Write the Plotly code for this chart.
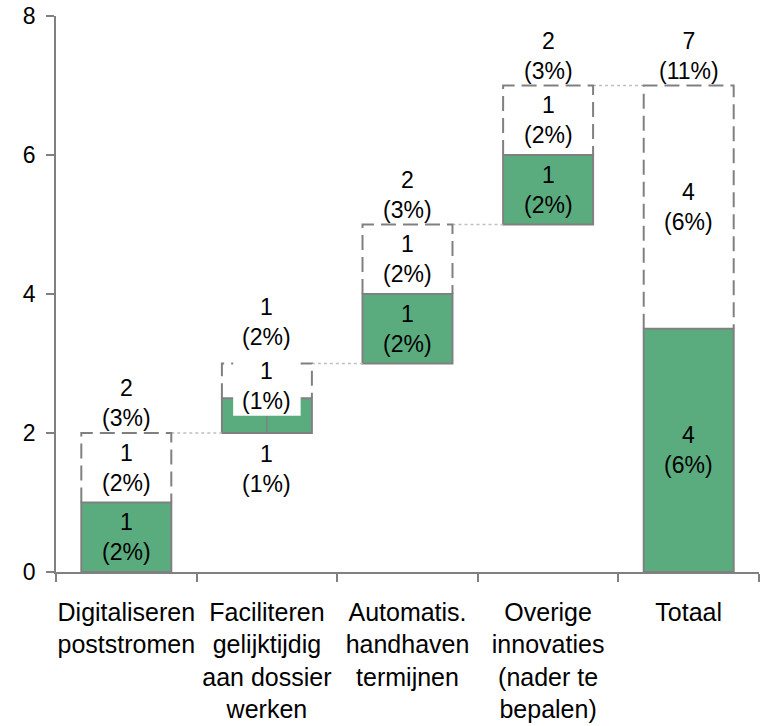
import plotly.graph_objects as go

# ---------------- data ----------------
categories = [
    "Digitaliseren<br>poststromen",
    "Faciliteren<br>gelijktijdig<br>aan dossier<br>werken",
    "Automatis.<br>handhaven<br>termijnen",
    "Overige<br>innovaties<br>(nader te<br>bepalen)",
    "Totaal",
]
solid_values = [1, 0.5, 1, 1, 3.5]      # green (solid) part
dashed_values = [1, 0.5, 1, 1, 3.5]     # dashed part on top
solid_counts = ["1", "1", "1", "1", "4"]
solid_pct = ["(2%)", "(1%)", "(2%)", "(2%)", "(6%)"]
dashed_counts = ["1", "1", "1", "1", "4"]
dashed_pct = ["(2%)", "(1%)", "(2%)", "(2%)", "(6%)"]
total_counts = ["2", "1", "2", "2", "7"]
total_pct = ["(3%)", "(2%)", "(3%)", "(3%)", "(11%)"]
y_ticks = [0, 2, 4, 6, 8]

# ---------------- styles ----------------
GREEN = "#5AAC7F"
GREY = "#808080"
FONT = "Liberation Sans, Arial, sans-serif"
BAR_W = 0.64
LABEL_SIZE = 23

n = len(categories)
bases = []
run = 0
for i in range(n):
    if i == n - 1:
        bases.append(0)
    else:
        bases.append(run)
        run += solid_values[i] + dashed_values[i]
dashed_bases = [b + s for b, s in zip(bases, solid_values)]
tops = [b + d for b, d in zip(dashed_bases, dashed_values)]

fig = go.Figure()
fig.add_trace(go.Bar(
    x=categories, y=solid_values, base=bases, width=BAR_W,
    marker=dict(color=GREEN, line=dict(color=GREY, width=2)),
    showlegend=False, hoverinfo="skip",
))
fig.add_trace(go.Bar(
    x=categories, y=dashed_values, base=dashed_bases, width=BAR_W,
    marker=dict(color="rgba(0,0,0,0)", line=dict(width=0)),
    showlegend=False, hoverinfo="skip",
))

shapes = []
# connector dotted lines
for i in range(n - 1):
    shapes.append(dict(type="line", xref="x", yref="y",
                       x0=i + BAR_W / 2, x1=i + 1 - BAR_W / 2,
                       y0=tops[i], y1=tops[i],
                       line=dict(color="#BFBFBF", width=1.5, dash="dot")))
# dashed outlines
for i in range(n):
    x0, x1 = i - BAR_W / 2, i + BAR_W / 2
    y0, y1 = dashed_bases[i], tops[i]
    shapes.append(dict(type="path", xref="x", yref="y",
                       path=f"M {x0},{y0} L {x0},{y1} L {x1},{y1} L {x1},{y0}",
                       line=dict(color=GREY, width=2, dash="15px,7px")))

annotations = []
txt_font = dict(family=FONT, size=LABEL_SIZE, color="black")
for i, cat in enumerate(categories):
    small = solid_values[i] < 1
    if small:
        annotations.append(dict(x=cat, y=bases[i], xref="x", yref="y",
                                text=f"{solid_counts[i]}<br>{solid_pct[i]}",
                                showarrow=False, yanchor="top", yshift=-6,
                                font=txt_font))
        shapes.append(dict(type="line", xref="x", yref="y", x0=i, x1=i,
                           y0=bases[i], y1=bases[i] + 0.3,
                           line=dict(color=GREY, width=1.5)))
        shapes.append(dict(type="rect", xref="x", yref="y",
                           x0=i - 0.24, x1=i + 0.24,
                           y0=dashed_bases[i] - 0.25, y1=tops[i] + 0.08,
                           fillcolor="white", line=dict(width=0)))
        annotations.append(dict(x=cat, y=dashed_bases[i] + dashed_values[i] / 2 - 0.08,
                                xref="x", yref="y",
                                text=f"{dashed_counts[i]}<br>{dashed_pct[i]}",
                                showarrow=False, font=txt_font))
        annotations.append(dict(x=cat, y=tops[i], xref="x", yref="y",
                                text=f"{total_counts[i]}<br>{total_pct[i]}",
                                showarrow=False, yanchor="bottom", yshift=12,
                                font=txt_font))
    else:
        annotations.append(dict(x=cat, y=bases[i] + solid_values[i] / 2,
                                xref="x", yref="y",
                                text=f"{solid_counts[i]}<br>{solid_pct[i]}",
                                showarrow=False, font=txt_font))
        annotations.append(dict(x=cat, y=dashed_bases[i] + dashed_values[i] / 2,
                                xref="x", yref="y",
                                text=f"{dashed_counts[i]}<br>{dashed_pct[i]}",
                                showarrow=False, font=txt_font))
        annotations.append(dict(x=cat, y=tops[i], xref="x", yref="y",
                                text=f"{total_counts[i]}<br>{total_pct[i]}",
                                showarrow=False, yanchor="bottom", yshift=0,
                                font=txt_font))

fig.update_layout(
    width=762, height=726,
    margin=dict(l=56, r=3, t=16, b=154),
    plot_bgcolor="white", paper_bgcolor="white",
    barmode="overlay",
    shapes=shapes, annotations=annotations,
    font=dict(family=FONT, color="black"),
    xaxis=dict(
        type="category", tickson="boundaries", ticks="outside", ticklen=8,
        tickcolor=GREY, tickwidth=1.5, showline=True, linecolor=GREY, linewidth=1.5,
        showgrid=False, tickfont=dict(family=FONT, size=25, color="black"),
        tickangle=0, automargin=False, ticklabelstandoff=17,
    ),
    yaxis=dict(
        range=[0, 8], tickvals=y_ticks, ticks="outside", ticklen=8,
        tickcolor=GREY, tickwidth=1.5, showline=True, linecolor=GREY, linewidth=1.5,
        showgrid=False, zeroline=False, automargin=False,
        tickfont=dict(family=FONT, size=23, color="black"),
        ticklabelstandoff=6,
    ),
)

fig.write_html("out.html", config={"displayModeBar": False},
               post_script="document.body.style.margin='0px';")
